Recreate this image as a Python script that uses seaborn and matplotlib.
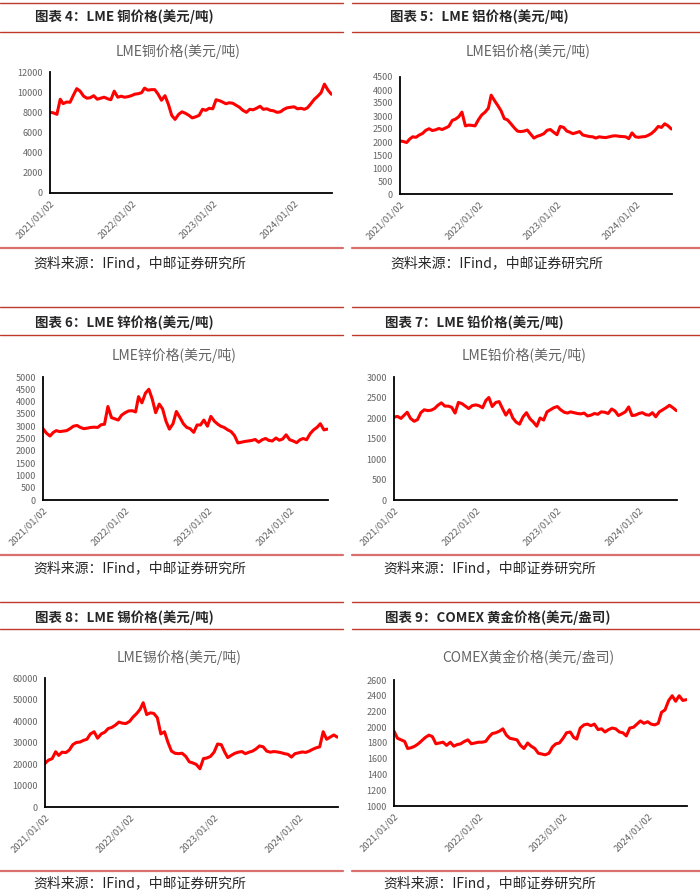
import matplotlib
matplotlib.use("Agg")
import matplotlib.pyplot as plt
import matplotlib.dates as mdates
from matplotlib.lines import Line2D
import seaborn as sns
import pandas as pd

# 반월 간격 날짜 (2021/01 ~ 2024/06)
months = pd.date_range("2021-01-01", periods=42, freq="MS")
dates = sorted([m + pd.Timedelta(days=1) for m in months] + [m + pd.Timedelta(days=16) for m in months])

cu = [8000, 7950, 7800, 9300, 8860, 9020, 9000, 9700, 10350, 10100, 9600, 9400,
      9450, 9650, 9300, 9400, 9500, 9350, 9250, 10100, 9500, 9600, 9500, 9550,
      9650, 9800, 9850, 9950, 10400, 10200, 10250, 10250, 9800, 9200, 9650, 8800,
      7700, 7300, 7800, 8050, 7900, 7700, 7450, 7550, 7700, 8300, 8200, 8400,
      8350, 9250, 9150, 9000, 8850, 8950, 8900, 8700, 8500, 8200, 8000, 8300,
      8250, 8400, 8600, 8300, 8350, 8200, 8150, 8000, 8050, 8300, 8450, 8500,
      8550, 8350, 8400, 8300, 8450, 8850, 9300, 9600, 9950, 10800, 10200, 9800]

al = [2040, 2020, 1980, 2120, 2200, 2180, 2270, 2330, 2450, 2510, 2440, 2470,
      2520, 2480, 2540, 2600, 2830, 2880, 2970, 3150, 2620, 2650, 2640, 2620,
      2860, 3040, 3150, 3300, 3800, 3600, 3400, 3200, 2900, 2850, 2700, 2550,
      2420, 2400, 2420, 2460, 2300, 2150, 2220, 2260, 2320, 2450, 2480, 2380,
      2280, 2600, 2560, 2420, 2380, 2320, 2360, 2400, 2270, 2240, 2210, 2200,
      2150, 2200, 2180, 2170, 2200, 2230, 2240, 2220, 2210, 2200, 2130, 2350,
      2200, 2180, 2200, 2210, 2260, 2330, 2450, 2600, 2560, 2700, 2620, 2500]

zn = [2900, 2720, 2600, 2750, 2820, 2780, 2800, 2820, 2900, 3000, 3030, 2950,
      2900, 2920, 2950, 2960, 2950, 3060, 3080, 3800, 3350, 3300, 3250, 3450,
      3550, 3620, 3630, 3580, 4200, 3950, 4350, 4500, 4100, 3550, 3900, 3700,
      3200, 2880, 3100, 3600, 3350, 3100, 2950, 2900, 2750, 3050, 3050, 3250,
      3000, 3400, 3200, 3080, 3000, 2950, 2850, 2780, 2620, 2320, 2350, 2380,
      2400, 2420, 2460, 2350, 2450, 2500, 2420, 2400, 2520, 2430, 2480, 2650,
      2450, 2400, 2330, 2450, 2500, 2450, 2700, 2850, 2950, 3100, 2850, 2880]

pb = [2020, 2040, 1990, 2070, 2140, 1990, 1920, 1960, 2130, 2200, 2180, 2190,
      2230, 2310, 2370, 2290, 2290, 2260, 2120, 2380, 2350, 2290, 2230, 2300,
      2320, 2300, 2250, 2430, 2500, 2280, 2380, 2400, 2230, 2070, 2200, 2000,
      1900, 1850, 2030, 2130, 1980, 1900, 1800, 2000, 1950, 2150, 2200, 2250,
      2280, 2200, 2140, 2120, 2150, 2130, 2110, 2100, 2120, 2050, 2070, 2110,
      2090, 2150, 2140, 2110, 2220, 2170, 2060, 2100, 2150, 2270, 2060, 2070,
      2110, 2130, 2080, 2070, 2130, 2030, 2150, 2200, 2250, 2310, 2250, 2180]

sn = [20300, 21800, 22500, 25700, 24000, 25500, 25300, 26500, 29000, 30000, 30200, 31000,
      31500, 34000, 35000, 32000, 34000, 34800, 36500, 37000, 38100, 39500, 39000, 38800,
      39800, 41800, 43500, 45500, 48500, 43000, 43800, 43500, 41500, 34000, 35000, 30000,
      26000, 25000, 24800, 25000, 23500, 21000, 20500, 19800, 17800, 22500, 22800, 23500,
      25500, 29300, 29000, 25500, 23000, 24000, 25000, 25500, 25800, 24800, 25500, 26000,
      27000, 28400, 28000, 26000, 25500, 25800, 25600, 25300, 24800, 24500, 23200, 24800,
      25200, 25600, 25400, 26000, 26800, 27500, 28000, 35000, 31500, 32500, 33500, 32500]

au = [1950, 1860, 1840, 1820, 1730, 1740, 1760, 1790, 1830, 1870, 1900, 1880,
      1790, 1800, 1810, 1770, 1810, 1760, 1780, 1790, 1820, 1840, 1790, 1800,
      1810, 1810, 1820, 1880, 1920, 1930, 1950, 1980, 1900, 1860, 1850, 1840,
      1770, 1730, 1800, 1760, 1730, 1670, 1660, 1650, 1670, 1750, 1790, 1800,
      1860, 1930, 1940, 1870, 1850, 1990, 2030, 2040, 2020, 2040, 1970, 1980,
      1940, 1970, 1990, 1980, 1940, 1930, 1890, 1990, 2000, 2040, 2080, 2050,
      2070, 2040, 2030, 2050, 2190, 2220, 2340, 2400, 2330, 2400, 2340, 2350]

tick_dates = pd.to_datetime(["2021-01-02", "2022-01-02", "2023-01-02", "2024-01-02"])
source = "资料来源：IFind，中邮证券研究所"

W, H = 700, 896

# (헤더, 차트 제목, 데이터, y범위, y간격, 축 위치 px(l,t,r,b), 제목 중심 x, 열)
panels = [
    ("图表 4：LME 铜价格(美元/吨)", "LME铜价格(美元/吨)", cu, (0, 12000), 2000, (50, 72, 332, 193), 178, 0),
    ("图表 5：LME 铝价格(美元/吨)", "LME铝价格(美元/吨)", al, (0, 4500), 500, (400, 77, 672, 194), 528, 1),
    ("图表 6：LME 锌价格(美元/吨)", "LME锌价格(美元/吨)", zn, (0, 5000), 500, (43, 377, 328, 500), 174, 0),
    ("图表 7：LME 铅价格(美元/吨)", "LME铅价格(美元/吨)", pb, (0, 3000), 500, (394, 377, 677, 500), 524, 1),
    ("图表 8：LME 锡价格(美元/吨)", "LME锡价格(美元/吨)", sn, (0, 60000), 10000, (45, 678, 338, 807), 179, 0),
    ("图表 9：COMEX 黄金价格(美元/盎司)", "COMEX黄金价格(美元/盎司)", au, (1000, 2600), 200, (394, 680, 687, 806), 528, 1),
]
# 행별 y 위치: 상단선, 헤더, 밑줄, 차트제목, 출처선, 출처
rows = [(3, 17, 32, 51, 248, 263), (307, 323, 335, 355, 555, 568), (602, 618, 629, 657, 871, 883)]

sns.set_style("white")
plt.rcParams["font.family"] = ["Noto Sans CJK SC", "DejaVu Sans"]

fig = plt.figure(figsize=(W / 100, H / 100), dpi=100)


def fy(y):
    return 1 - y / H


def hline(x0, x1, y, color, lw):
    fig.add_artist(Line2D([x0 / W, x1 / W], [fy(y), fy(y)], transform=fig.transFigure,
                          color=color, lw=lw))


df_all = pd.DataFrame({"date": dates})
for k, (header, title, vals, ylim, step, (l, t, r, b), tcx, col) in enumerate(panels):
    top, hy, uy, ty, sy, sty = rows[k // 2]
    x0, x1 = (0, 343) if col == 0 else (352, 700)
    hx = 35 if col == 0 else (390 if k == 1 else 385)
    sx = 33 if col == 0 else (390 if k == 1 else 383)

    hline(x0, x1, top, "#C0392B", 1.0)
    hline(x0, x1, uy, "#C0392B", 1.0)
    hline(x0, x1, sy, "#D9706E", 1.6)
    fig.text(hx / W, fy(hy), header, fontsize=9.7, fontweight="bold", va="center", ha="left")
    fig.text(sx / W, fy(sty), source, fontsize=10, va="center", ha="left")
    fig.text(tcx / W, fy(ty), title, fontsize=10, color="#646464", va="center", ha="center")

    ax = fig.add_axes([l / W, fy(b), (r - l) / W, (b - t) / H])
    d = df_all.assign(v=vals)
    sns.lineplot(data=d, x="date", y="v", ax=ax, color="#FF0000", lw=2.2)
    ax.set_ylim(*ylim)
    ax.set_yticks(range(ylim[0], ylim[1] + 1, step))
    ax.set_xlim(dates[0], dates[-1] + pd.Timedelta(days=3))
    ax.set_xticks(tick_dates)
    ax.xaxis.set_major_formatter(mdates.DateFormatter("%Y/%m/%d"))
    for lab in ax.get_xticklabels():
        lab.set_rotation(45)
        lab.set_ha("right")
        lab.set_rotation_mode("anchor")
    ax.tick_params(axis="y", labelsize=6.5, labelcolor="#646464", length=3, width=1, color="black", pad=2)
    ax.tick_params(axis="x", labelsize=6.8, labelcolor="#646464", length=0, pad=4)
    ax.set_xlabel("")
    ax.set_ylabel("")
    for s in ["top", "right"]:
        ax.spines[s].set_visible(False)
    for s in ["left", "bottom"]:
        ax.spines[s].set_color("black")
        ax.spines[s].set_linewidth(1.3)

fig.savefig("out.png", dpi=100)
